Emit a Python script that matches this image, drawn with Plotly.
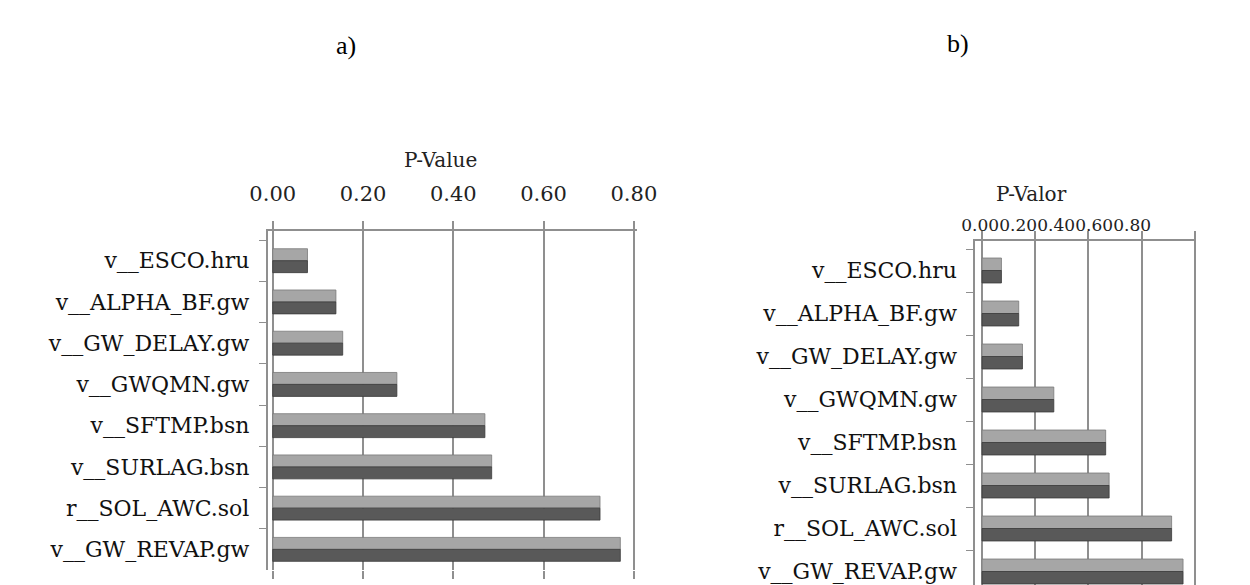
import plotly.graph_objects as go

# ---------------- data ----------------
categories = ["v__ESCO.hru", "v__ALPHA_BF.gw", "v__GW_DELAY.gw", "v__GWQMN.gw",
              "v__SFTMP.bsn", "v__SURLAG.bsn", "r__SOL_AWC.sol", "v__GW_REVAP.gw"]
p_value_a = [0.077, 0.14, 0.155, 0.275, 0.47, 0.485, 0.725, 0.77]
p_valor_b = [0.073, 0.138, 0.152, 0.27, 0.465, 0.478, 0.713, 0.756]
tick_vals = [0.0, 0.2, 0.4, 0.6, 0.8]
tick_text = ["0.00", "0.20", "0.40", "0.60", "0.80"]
title_a = "P-Value"
title_b = "P-Valor"

W, H = 1250, 585
FONT = "DejaVu Serif"
LIGHT = "#a6a6a6"
DARK = "#595959"
GRID = "#8f8f8f"


def px_x(p):
    return p / W


def px_y(p):
    return (H - p) / H


fig = go.Figure()

for vals, xa, ya in [(p_value_a, "x", "y"), (p_valor_b, "x2", "y2")]:
    fig.add_trace(go.Bar(
        x=vals, y=categories, orientation="h", xaxis=xa, yaxis=ya,
        offset=-0.29, width=0.29,
        marker=dict(color=LIGHT, line=dict(color="#7a7a7a", width=0.8)),
        showlegend=False, hoverinfo="x+y"))
    fig.add_trace(go.Bar(
        x=vals, y=categories, orientation="h", xaxis=xa, yaxis=ya,
        offset=0.0, width=0.29,
        marker=dict(color=DARK, line=dict(color="#3a3a3a", width=0.8)),
        showlegend=False, hoverinfo="x+y"))

# empty traces so that the helper axes (crammed labels of b, floor ticks of a) are drawn
fig.add_trace(go.Scatter(x=[], y=[], xaxis="x3", yaxis="y2", showlegend=False,
                         hoverinfo="skip"))
fig.add_trace(go.Scatter(x=[], y=[], xaxis="x4", yaxis="y", showlegend=False,
                         hoverinfo="skip"))

common_x = dict(
    tickmode="array", tickvals=tick_vals, ticktext=tick_text,
    showgrid=True, gridcolor=GRID, gridwidth=2,
    zeroline=False, showline=True, linecolor=GRID, linewidth=2,
    ticks="outside", ticklen=8, tickcolor=GRID, tickwidth=1.5,
    side="top", fixedrange=True,
)
common_y = dict(
    type="category", categoryorder="array", categoryarray=categories,
    tickson="boundaries", ticks="outside", ticklen=7, tickcolor=GRID,
    showgrid=False, showline=True, linecolor=GRID, linewidth=2,
    zeroline=False, fixedrange=True,
    tickfont=dict(family=FONT, size=22, color="#111111"),
)

fig.update_layout(
    width=W, height=H,
    margin=dict(l=0, r=0, t=0, b=0),
    paper_bgcolor="white", plot_bgcolor="rgba(0,0,0,0)",
    barmode="overlay",
    font=dict(family=FONT, size=21, color="#111111"),
    xaxis=dict(common_x, domain=[px_x(257), px_x(638)], range=[-0.011, 0.806],
               anchor="y", tickfont=dict(family=FONT, size=21, color="#222222"),
               ticklabelstandoff=12),
    yaxis=dict(common_y, domain=[px_y(570), px_y(231)], range=[7.5, -0.72],
               anchor="x", ticklabelstandoff=12),
    xaxis2=dict(common_x, domain=[px_x(988), px_x(1216)], range=[-0.025, 0.805],
                anchor="y2", showticklabels=False),
    yaxis2=dict(common_y, domain=[0, px_y(241)], range=[7.314, -0.686],
                anchor="x2", ticklabelstandoff=12),
    # tick labels of panel b, crammed to the left as in the original
    xaxis3=dict(domain=[px_x(993), px_x(1150)], range=[0, 0.8], anchor="y2",
                side="top", tickmode="array", tickangle=0,
                tickvals=tick_vals, ticktext=tick_text, showgrid=False,
                showline=False, zeroline=False, ticks="", ticklabelstandoff=6,
                tickfont=dict(family=FONT, size=17, color="#222222"),
                fixedrange=True),
    # bottom (floor) tick marks of panel a
    xaxis4=dict(range=[-0.011, 0.806], anchor="y", overlaying="x",
                side="bottom", tickmode="array", tickvals=tick_vals,
                showticklabels=False, ticks="outside", ticklen=8, tickcolor=GRID,
                tickwidth=1.5, showgrid=False, showline=False, zeroline=False,
                fixedrange=True),
    annotations=[
        dict(text="a)", x=px_x(325), y=px_y(29), xref="paper", yref="paper",
             showarrow=False, font=dict(family="Liberation Serif", size=26, color="black")),
        dict(text="b)", x=px_x(983), y=px_y(27), xref="paper", yref="paper",
             showarrow=False, font=dict(family="Liberation Serif", size=26, color="black")),
        dict(text=title_a, x=px_x(435), y=px_y(146), xref="paper", yref="paper",
             showarrow=False, font=dict(family=FONT, size=20, color="#222222")),
        dict(text=title_b, x=px_x(1085), y=px_y(180), xref="paper", yref="paper",
             showarrow=False, font=dict(family=FONT, size=20, color="#222222")),
    ],
)

fig.write_html("out.html", config={"displayModeBar": False},
               post_script="document.body.style.margin='0';")
